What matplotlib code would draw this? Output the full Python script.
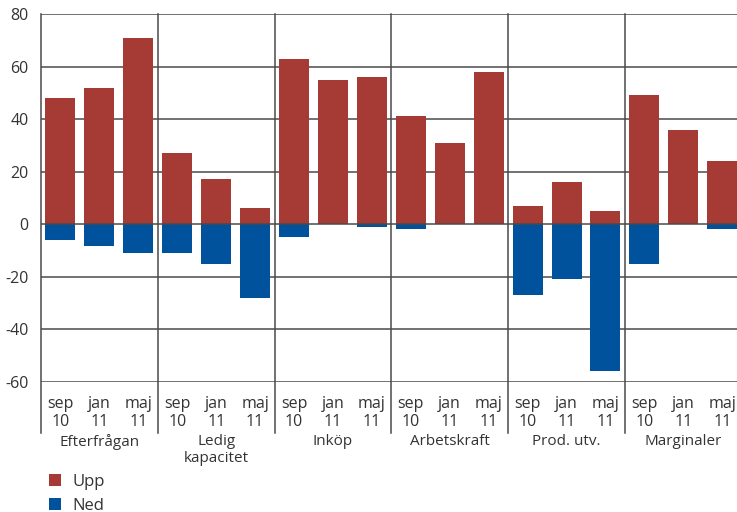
import matplotlib
matplotlib.use("Agg")
import matplotlib.pyplot as plt
import numpy as np

plt.rcParams['font.family'] = ['Open Sans', 'DejaVu Sans']
plt.rcParams['axes.unicode_minus'] = False

groups = ["Efterfrågan", "Ledig\nkapacitet", "Inköp", "Arbetskraft", "Prod. utv.", "Marginaler"]
periods = ["sep\n10", "jan\n11", "maj\n11"]
upp = [48, 52, 71,
       27, 17, 6,
       63, 55, 56,
       41, 31, 58,
       7, 16, 5,
       49, 36, 24]
ned = [-6, -8.5, -11,
       -11, -15, -28,
       -5, 0, -1,
       -2, 0, 0,
       -27, -21, -56,
       -15, 0, -2]

red = "#A63A34"
blue = "#00529C"
grid_col = "#4a4a4a"
text_col = "#333333"

W, H = 737, 512
fig = plt.figure(figsize=(W / 100, H / 100), dpi=100)
ax = fig.add_axes([41 / W, 1 - 381.7 / H, (741.7 - 41) / W, (381.7 - 14) / H])

n = len(upp)
x = np.arange(n)
bu = ax.bar(x, upp, width=0.77, color=red, zorder=2, label="Upp")
bn = ax.bar(x, ned, width=0.77, color=blue, zorder=2, label="Ned")

ax.set_xlim(-0.5, n - 0.5)
ax.set_ylim(-60, 80)
ax.set_yticks(np.arange(-60, 81, 20))
for yv in np.arange(-60, 81, 20):
    ax.axhline(yv, color=grid_col, lw=1.1, zorder=1 if yv != 0 else 3)

for s in ax.spines.values():
    s.set_visible(False)

# vertical separators between groups, extended down past the tick labels
ybot = -79.6
for xs in [-0.5] + [3 * i + 2.5 for i in range(len(groups) - 1)]:
    ax.plot([xs, xs], [80, ybot], color=grid_col, lw=1.1, clip_on=False, zorder=3)

ax.tick_params(axis="y", length=0, pad=9, labelsize=11.5, labelcolor=text_col)
ax.set_xticks(x)
ax.set_xticklabels(periods * len(groups), fontsize=11.5, color=text_col, linespacing=1.22)
ax.tick_params(axis="x", length=0, pad=10)

for i, g in enumerate(groups):
    ax.text(3 * i + 1, -79.9, g, ha="center", va="top", fontsize=11,
            color=text_col, linespacing=1.22)

fig.legend(handles=[bu, bn], labels=["Upp", "Ned"], loc="upper left",
           bbox_to_anchor=(34 / W, 1 - 459 / H), frameon=False, fontsize=12,
           handlelength=0.72, handleheight=0.72, handletextpad=0.7,
           labelspacing=0.45, labelcolor=text_col)

fig.savefig("out.png", dpi=100)
